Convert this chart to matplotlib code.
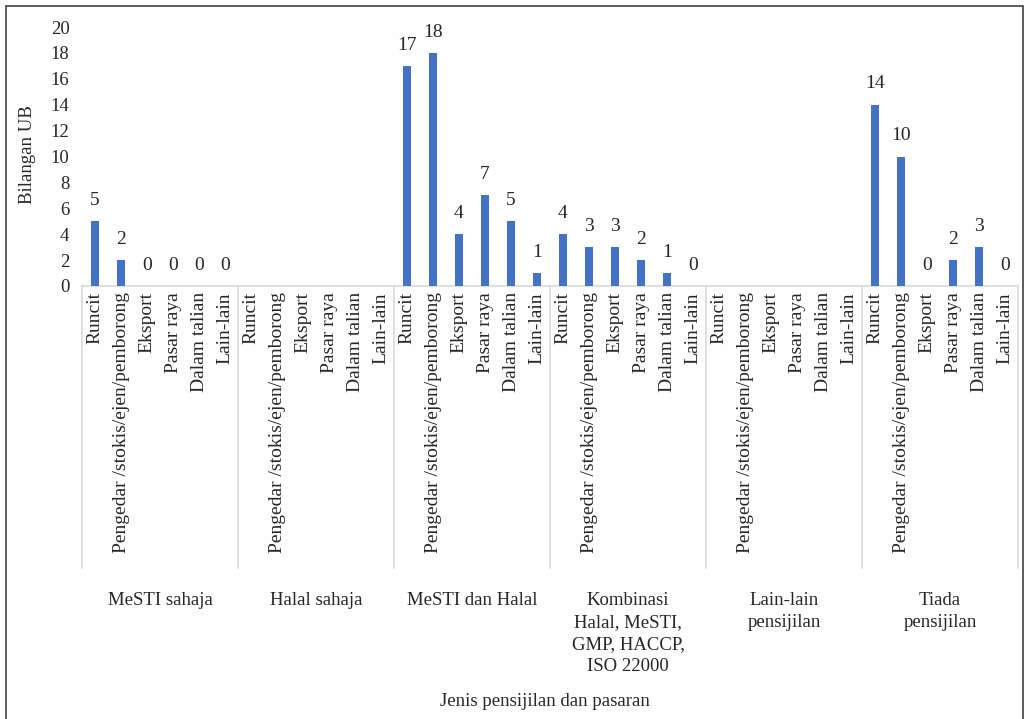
import numpy as np
import matplotlib
matplotlib.use("Agg")
import matplotlib.pyplot as plt
from matplotlib.patches import Rectangle

plt.rcParams['font.family'] = ['Liberation Serif', 'DejaVu Serif']

groups = ["MeSTI sahaja", "Halal sahaja", "MeSTI dan Halal",
          "Kombinasi\nHalal, MeSTI,\nGMP, HACCP,\nISO 22000",
          "Lain-lain\npensijilan", "Tiada\npensijilan"]
markets = ["Runcit", "Pengedar /stokis/ejen/pemborong", "Eksport",
           "Pasar raya", "Dalam talian", "Lain-lain"]
mesti_sahaja = [5, 2, 0, 0, 0, 0]
halal_sahaja = [np.nan] * 6
mesti_halal = [17, 18, 4, 7, 5, 1]
kombinasi = [4, 3, 3, 2, 1, 0]
lain_lain = [np.nan] * 6
tiada = [14, 10, 0, 2, 3, 0]
series = [mesti_sahaja, halal_sahaja, mesti_halal, kombinasi, lain_lain, tiada]
yticks = list(range(0, 21, 2))

W, H = 1026, 719
fig = plt.figure(figsize=(W / 100, H / 100), dpi=100)
ax = fig.add_axes([82 / W, 1 - 286 / H, (1018 - 82) / W, (286 - 27) / H])

values = [v for s in series for v in s]
x = np.arange(len(values)) + 0.5
vals = np.array(values, dtype=float)
ax.bar(x, np.nan_to_num(vals), width=0.31, color="#4472C4", zorder=3)
for xi, v in zip(x, vals):
    if not np.isnan(v):
        ax.annotate(f"{int(v)}", (xi, v), xytext=(0, 15), textcoords="offset points",
                    ha="center", va="center", fontsize=14, color="#262626")

ax.set_xlim(0, len(values))
ax.set_ylim(0, 20)
ax.set_yticks(yticks)
ax.tick_params(axis='y', length=0, labelsize=13.5, labelcolor="#262626", pad=9)
ax.set_xticks([])
for sp in ["top", "right", "left"]:
    ax.spines[sp].set_visible(False)
ax.spines["bottom"].set_color("#d9d9d9")
ax.spines["bottom"].set_linewidth(1.2)

trans = ax.get_xaxis_transform()
axh = 286 - 27
def fy(py):
    return -(py - 286) / axh

# separators
for g in range(len(groups) + 1):
    ax.plot([g * 6, g * 6], [0, fy(568)], transform=trans, color="#d9d9d9",
            lw=1.2, clip_on=False)

# sub labels
for i, xi in enumerate(x):
    ax.text(xi, fy(292), markets[i % 6], transform=trans, rotation=90,
            ha="center", va="top", fontsize=14, color="#262626")

# group labels
for g, name in enumerate(groups):
    ax.text(g * 6 + 3, fy(592), name, transform=trans, ha="center", va="top",
            fontsize=13.5, color="#262626", linespacing=1.38)

fig.text(545 / W, 1 - 701 / H, "Jenis pensijilan dan pasaran", ha="center",
         va="center", fontsize=13.5, color="#262626")
fig.text(27 / W, 1 - 155 / H, "Bilangan UB", ha="center", va="center",
         rotation=90, fontsize=13.5, color="#262626")

fig.patches.append(Rectangle((6 / W, -0.01), (1023 - 6) / W, 1 - 6 / H + 0.01,
                             transform=fig.transFigure, fill=False,
                             edgecolor="#404040", lw=1.2))

fig.savefig("out.png", dpi=100)
